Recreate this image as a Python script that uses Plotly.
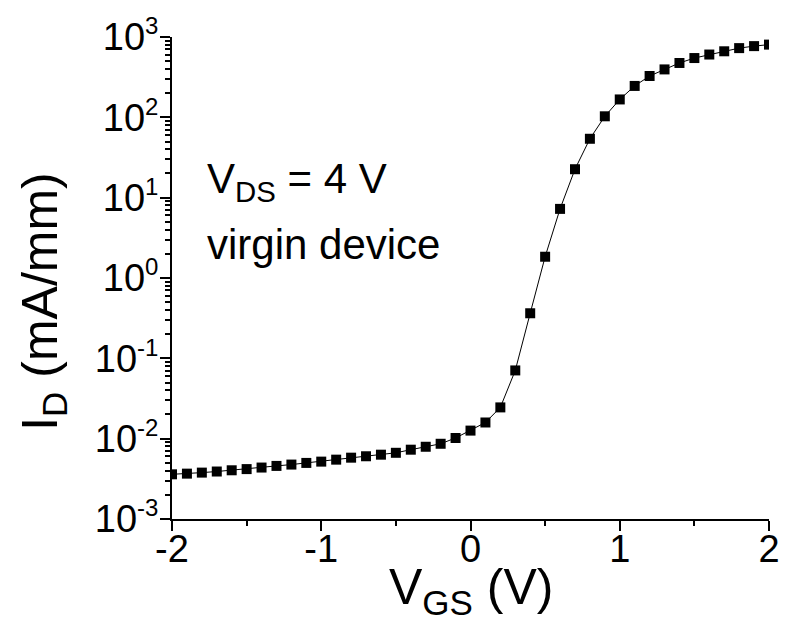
import plotly.graph_objects as go

# Transfer characteristic, log scale drain current vs gate voltage
vgs = [-2.0, -1.9, -1.8, -1.7, -1.6, -1.5, -1.4, -1.3, -1.2, -1.1,
       -1.0, -0.9, -0.8, -0.7, -0.6, -0.5, -0.4, -0.3, -0.2, -0.1,
       0.0, 0.1, 0.2, 0.3, 0.4, 0.5, 0.6, 0.7, 0.8, 0.9,
       1.0, 1.1, 1.2, 1.3, 1.4, 1.5, 1.6, 1.7, 1.8, 1.9, 2.0]
id_ma_mm = [3.60e-3, 3.67e-3, 3.78e-3, 3.90e-3, 4.04e-3, 4.18e-3, 4.37e-3, 4.58e-3, 4.76e-3, 4.99e-3,
            5.18e-3, 5.48e-3, 5.80e-3, 6.04e-3, 6.32e-3, 6.67e-3, 7.29e-3, 7.93e-3, 8.64e-3, 1.02e-2,
            1.26e-2, 1.59e-2, 2.45e-2, 7.07e-2, 0.364, 1.84, 7.25, 22.6, 54.1, 103,
            167, 246, 327, 395, 475, 547, 605, 664, 727, 770, 804]

x_tick_vals = [-2, -1, 0, 1, 2]
x_tick_text = ["-2", "-1", "0", "1", "2"]
y_exponents = [-3, -2, -1, 0, 1, 2, 3]

FONT = "Liberation Sans, Arial, sans-serif"

y_tick_vals = [10.0 ** e for e in y_exponents]
y_tick_text = ["10<sup><span style='font-size:24px'>%d</span></sup>" % e for e in y_exponents]
y_minor_vals = [k * 10.0 ** e for e in y_exponents[:-1] for k in range(2, 10)]

fig = go.Figure()
fig.add_trace(go.Scatter(
    x=vgs, y=id_ma_mm, mode="lines+markers",
    line=dict(color="black", width=1),
    marker=dict(symbol="square", size=10, color="black"),
    showlegend=False,
))

fig.update_layout(
    width=792, height=631,
    margin=dict(l=171.5, r=20.3, t=32.3, b=112.3),
    plot_bgcolor="white", paper_bgcolor="white",
    font=dict(family=FONT, color="black"),
    xaxis=dict(
        range=[-2, 2], showline=True, linecolor="black", linewidth=2,
        showgrid=False, zeroline=False, mirror=False,
        ticks="outside", ticklen=10, tickwidth=2, tickcolor="black",
        tickvals=x_tick_vals, ticktext=x_tick_text,
        tickfont=dict(size=38, family=FONT),
        ticklabelstandoff=-15,
        minor=dict(tickvals=[-1.5, -0.5, 0.5, 1.5], ticks="outside",
                   ticklen=5, tickwidth=2, tickcolor="black"),
    ),
    yaxis=dict(
        type="log", range=[-3, 3], showline=True, linecolor="black", linewidth=2,
        showgrid=False, zeroline=False, mirror=False,
        ticks="outside", ticklen=10, tickwidth=2, tickcolor="black",
        tickvals=y_tick_vals, ticktext=y_tick_text,
        tickfont=dict(size=38, family=FONT),
        ticklabelstandoff=-6,
        minor=dict(tickvals=y_minor_vals, ticks="outside",
                   ticklen=5, tickwidth=2, tickcolor="black"),
    ),
    annotations=[
        dict(text="V<sub>GS</sub> (V)", xref="paper", yref="paper",
             x=0.5, y=-0.081, xanchor="center", yanchor="top", borderpad=0,
             showarrow=False, font=dict(size=50, family=FONT)),
        dict(text="I<sub>D</sub> (mA/mm)", xref="paper", yref="paper",
             x=-0.2166, y=0.452, xanchor="center", yanchor="middle",
             textangle=-90, showarrow=False, font=dict(size=50, family=FONT)),
        dict(text="V<sub>DS</sub> = 4 V", xref="paper", yref="paper",
             x=0.055, y=0.70, xanchor="left", yanchor="middle",
             showarrow=False, font=dict(size=42, family=FONT)),
        dict(text="virgin device", xref="paper", yref="paper",
             x=0.055, y=0.57, xanchor="left", yanchor="middle",
             showarrow=False, font=dict(size=42, family=FONT)),
    ],
)

fig.write_html("out.html")
